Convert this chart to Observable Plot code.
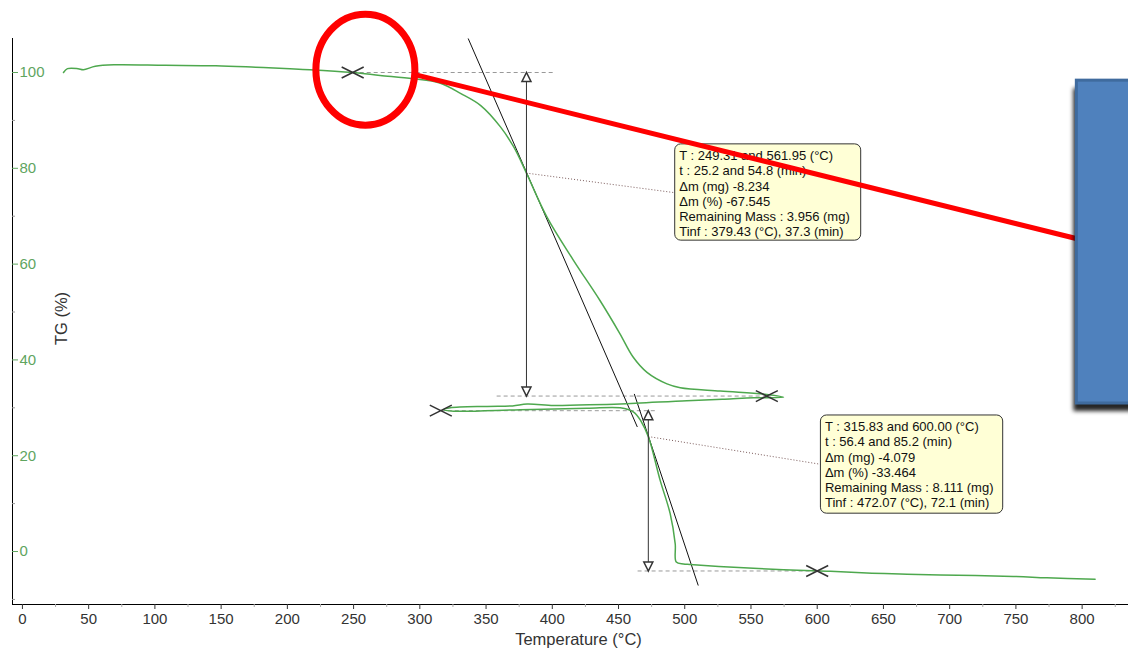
<!DOCTYPE html>
<html><head><meta charset="utf-8">
<script src="https://cdn.jsdelivr.net/npm/d3@7"></script>
<script src="https://cdn.jsdelivr.net/npm/@observablehq/plot@0.6"></script>
<style>body{margin:0;background:#fff;} #chart svg{display:block;}</style>
</head><body><div id="chart"></div>
<script>
// TG curve in recorded order (heating, partial cooling, re-heating)
const curveT = [31, 34, 42, 46, 55, 69, 108, 146, 176, 202, 217, 249.3, 270, 295, 315, 331, 346, 361, 371, 380.5, 396, 416, 436, 451, 461, 471.5, 486.6, 496.6, 526.8, 562, 574.6,
  552, 530, 501.6, 451.3, 420, 400.8, 381, 370, 350.7, 323, 318,
  325.5, 375.8, 426.2, 451.3, 461.4, 467, 472.6, 481.5, 489, 492.8, 493.6, 499, 504, 537, 574.6, 607.3, 637.5, 662.6, 692.8, 748, 773.4, 809.8];
const curveTG = [100.0, 100.8, 100.8, 100.6, 101.3, 101.6, 101.5, 101.4, 101.1, 100.8, 100.6, 100.0, 99.4, 98.7, 97.8, 95.6, 93.1, 88.6, 84.4, 79.0, 69.8, 60.8, 52.4, 45.5, 40.6, 37.4, 35.0, 34.2, 33.5, 32.8, 32.2,
  32.1, 31.8, 31.5, 30.8, 30.6, 30.5, 30.8, 30.4, 30.3, 30.0, 29.6,
  29.3, 29.6, 29.9, 30.0, 29.1, 27.2, 23.9, 14.8, 7.9, 1.6, -2.2, -2.6, -2.7, -3.3, -3.8, -4.1, -4.5, -4.7, -4.9, -5.2, -5.5, -5.8];

// step analysis
const markerT = [249.31, 561.95, 315.83, 600.00];
const markerTG = [100, 32.455, 29.4, -4.06];
const stepStartT = [249.31, 315.83];
const stepTopTG = [100, 29.4];
const stepTopEndT = [402, 479];
const stepBottomStartT = [358, 464.4];
const stepBottomEndT = [565, 600];
const stepBottomTG = [32.455, -4.06];
const inflT = [380.5, 472.5];
const inflTG = [79.0, 24.0];
const tangentT1 = [336.5, 461.9];
const tangentT2 = [464.2, 510.2];
const tangentTG1 = [107.1, 32.9];
const tangentTG2 = [26.0, -7.1];
const boxLeftT = [492.8, 602.8];
const boxRightT = [633.2, 740.4];
const boxTopTG = [85.0, 28.4];
const boxBottomTG = [64.9, 7.9];
const leaderEndTG = [74.9, 18.2];
const boxTexts = [
  "T : 249.31 and 561.95 (°C)\nt : 25.2 and 54.8 (min)\nΔm (mg) -8.234\nΔm (%) -67.545\nRemaining Mass : 3.956 (mg)\nTinf : 379.43 (°C), 37.3 (min)",
  "T : 315.83 and 600.00 (°C)\nt : 56.4 and 85.2 (min)\nΔm (mg) -4.079\nΔm (%) -33.464\nRemaining Mass : 8.111 (mg)\nTinf : 472.07 (°C), 72.1 (min)"
];

// axes
const xLabels = [0, 50, 100, 150, 200, 250, 300, 350, 400, 450, 500, 550, 600, 650, 700, 750, 800];
const xMinor = [25, 75, 125, 175, 225, 275, 325, 375, 425, 475, 525, 575, 625, 675, 725, 775, 825];
const yLabels = [0, 20, 40, 60, 80, 100];
const yMinor = [-10, 10, 30, 50, 70, 90];

// overlay annotations (slide highlight)
const highlightT = [258.9];
const highlightTG = [100.6];
const pointerT = [294.1, 796.2];
const pointerTG = [99.7, 65.3];
const panelT = [796, 860];
const panelTG = [98.3, 30.9];

const idx2 = [0, 1];
const xSym = {draw(c) { const w = 11, h = 5.5; c.moveTo(-w, -h); c.lineTo(w, h); c.moveTo(-w, h); c.lineTo(w, -h); }};
const upHead = {draw(c) { c.moveTo(0, 0); c.lineTo(-4.5, 9); c.lineTo(4.5, 9); c.closePath(); }};
const downHead = {draw(c) { c.moveTo(0, 0); c.lineTo(-4.5, -9); c.lineTo(4.5, -9); c.closePath(); }};
const ellipseSym = {draw(c) {
  const a = 49.5, b = 55.5, k = 0.5523;
  c.moveTo(a, 0);
  c.bezierCurveTo(a, k * b, k * a, b, 0, b);
  c.bezierCurveTo(-k * a, b, -a, k * b, -a, 0);
  c.bezierCurveTo(-a, -k * b, -k * a, -b, 0, -b);
  c.bezierCurveTo(k * a, -b, a, -k * b, a, 0);
  c.closePath();
}};

const green = "#4ea84e";
const frameW = 1128 - 12;

const chart = Plot.plot({
  width: 1128, height: 649,
  marginLeft: 12, marginRight: 0, marginTop: 38, marginBottom: 45,
  x: {domain: [-7.5, 835], axis: null},
  y: {domain: [-11.06, 107.1], axis: null},
  style: {fontFamily: "'Liberation Sans', Arial, sans-serif", fontSize: "15px", background: "#fff", overflow: "visible"},
  marks: [
    // axis lines
    Plot.ruleX([-7.5], {stroke: "#000"}),
    Plot.ruleY([-11.06], {stroke: "#000"}),
    // y ticks & labels
    Plot.ruleY(yLabels, {insetRight: frameW - 6, stroke: "#5fa55f"}),
    Plot.ruleY(yMinor, {insetRight: frameW - 3, stroke: "#999"}),
    Plot.text(yLabels, {y: d => d, frameAnchor: "left", dx: 7, textAnchor: "start", text: d => String(d), fill: "#5fa55f", fontSize: 15}),
    // x ticks & labels
    Plot.axisX(xLabels, {anchor: "bottom", tickSize: 5, tickPadding: 4, fontSize: 15, color: "#333", label: null}),
    Plot.axisX(xMinor, {anchor: "bottom", tickSize: 3, text: null, color: "#aaa", label: null}),
    Plot.text(["Temperature (°C)"], {frameAnchor: "bottom", dy: 40, dx: 8, fontSize: 16.5, fill: "#333"}),
    Plot.text(["TG (%)"], {frameAnchor: "left", textAnchor: "middle", dx: 49, dy: -3, rotate: -90, fontSize: 16.5, fill: "#333"}),
    // dashed step limits
    Plot.link(idx2, {x1: i => stepStartT[i], x2: i => stepTopEndT[i], y1: i => stepTopTG[i], y2: i => stepTopTG[i], stroke: "#999", strokeDasharray: "4,3"}),
    Plot.link(idx2, {x1: i => stepBottomStartT[i], x2: i => stepBottomEndT[i], y1: i => stepBottomTG[i], y2: i => stepBottomTG[i], stroke: "#999", strokeDasharray: "4,3"}),
    // tangents
    Plot.link(idx2, {x1: i => tangentT1[i], x2: i => tangentT2[i], y1: i => tangentTG1[i], y2: i => tangentTG2[i], stroke: "#111", strokeWidth: 1}),
    // TG curve
    Plot.line(curveT.map((t, i) => ({t, v: curveTG[i]})), {x: "t", y: "v", stroke: green, strokeWidth: 1.5, curve: "catmull-rom"}),
    // leader dotted lines
    Plot.link(idx2, {x1: i => inflT[i], y1: i => inflTG[i], x2: i => boxLeftT[i], y2: i => leaderEndTG[i], stroke: "#7a5a5a", strokeDasharray: "1,2"}),
    // step arrows
    Plot.link(idx2, {x1: i => inflT[i], x2: i => inflT[i], y1: i => stepTopTG[i], y2: i => stepBottomTG[i], stroke: "#333"}),
    Plot.dot(idx2, {x: i => inflT[i], y: i => stepTopTG[i], symbol: upHead, fill: "#fff", stroke: "#333"}),
    Plot.dot(idx2, {x: i => inflT[i], y: i => stepBottomTG[i], symbol: downHead, fill: "#fff", stroke: "#333"}),
    // markers
    Plot.dot(markerT.map((t, i) => ({t, v: markerTG[i]})), {x: "t", y: "v", symbol: xSym, stroke: "#333", fill: "none"}),
    // info boxes
    Plot.rect(idx2, {x1: i => boxLeftT[i], x2: i => boxRightT[i], y1: i => boxTopTG[i], y2: i => boxBottomTG[i], fill: "#ffffd6", stroke: "#333", rx: 6}),
    Plot.text(idx2, {x: i => boxLeftT[i], y: i => boxTopTG[i], text: i => boxTexts[i], textAnchor: "start", lineAnchor: "top", dx: 4, dy: 5, fontSize: 13, lineHeight: 1.17, fill: "#111"}),
    // slide overlays
    Plot.dot(highlightT.map((t, i) => ({t, v: highlightTG[i]})), {x: "t", y: "v", symbol: ellipseSym, stroke: "#ff0000", strokeWidth: 7, fill: "none"}),
    Plot.link([0], {x1: () => pointerT[0], y1: () => pointerTG[0], x2: () => pointerT[1], y2: () => pointerTG[1], stroke: "#ff0000", strokeWidth: 5}),
    Plot.rect([0], {x1: () => panelT[0], x2: () => panelT[1], y1: () => panelTG[0], y2: () => panelTG[1], fill: "#000", fillOpacity: 0.85, dx: -3, dy: 8, imageFilter: "blur(2px)"}),
    Plot.rect([0], {x1: () => panelT[0], x2: () => panelT[1], y1: () => panelTG[0], y2: () => panelTG[1], fill: "#4f81bd", stroke: "#3f6b9e", strokeWidth: 3})
  ]
});
document.getElementById("chart").appendChild(chart);
</script>
</body></html>
